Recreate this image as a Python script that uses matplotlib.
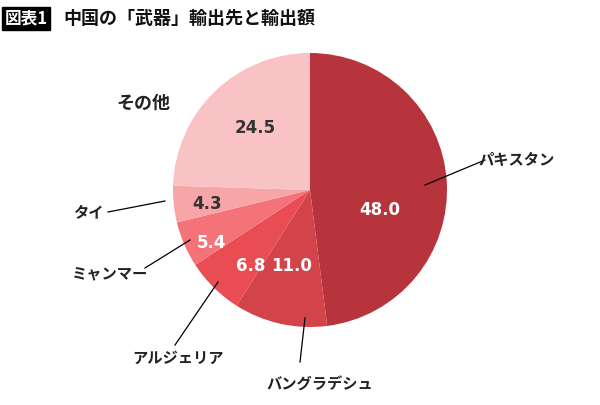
import matplotlib
matplotlib.use("Agg")
import matplotlib.pyplot as plt

countries = ["パキスタン", "バングラデシュ", "アルジェリア", "ミャンマー", "タイ", "その他"]
values = [48.0, 11.0, 6.8, 5.4, 4.3, 24.5]
colors = ["#b8343c", "#d3434a", "#e94c52", "#f47378", "#f8a5a8", "#f9c2c4"]

plt.rcParams['font.family'] = ['Noto Sans CJK JP', 'DejaVu Sans']
fig = plt.figure(figsize=(6, 4.05), dpi=100)
cx, cy, r = 310, 190, 137
ax = fig.add_axes([(cx - r) / 600, (405 - cy - r) / 405, 2 * r / 600, 2 * r / 405])
ax.pie(values, colors=colors, startangle=90, counterclock=False, radius=1,
       wedgeprops=dict(linewidth=0))
ax.set_xlim(-1, 1); ax.set_ylim(-1, 1)

def d(px, py):
    return ((px - cx) / r, (cy - py) / r)

val_pos = [(380, 210, "white"), (292, 266, "white"), (251, 266, "white"),
           (212, 243, "white"), (207, 204, "#333333"), (255, 128, "#333333")]
for v, (px, py, c) in zip(values, val_pos):
    ax.text(*d(px, py), f"{v:.1f}", color=c, fontsize=12, fontweight="bold",
            ha="center", va="center", family=["DejaVu Sans"], clip_on=False)

lab = [((517, 160), (425, 185), (485, 160)),
       ((320, 385), (305, 318), (300, 362)),
       ((178, 358), (218, 282), (175, 345)),
       ((110, 274), (190, 240), (145, 268)),
       ((88, 212), (165, 201), (108, 212)),
       ((143, 103), None, None)]
for name, (tp, a, b) in zip(countries, lab):
    ax.text(*d(*tp), name, fontsize=11 if name != "その他" else 13, fontweight="bold",
            ha="center", va="center", color="#222222", clip_on=False)
    if a:
        (x1, y1), (x2, y2) = d(*a), d(*b)
        ax.plot([x1, x2], [y1, y2], color="black", lw=0.9, clip_on=False)

fig.text(0.008, 0.955, "図表1", color="white", fontsize=12, fontweight="bold",
         va="center", ha="left",
         bbox=dict(boxstyle="square,pad=0.15", fc="black", ec="black"))
fig.text(0.105, 0.955, "中国の「武器」輸出先と輸出額", fontsize=13, fontweight="bold",
         va="center", ha="left", color="#111111")
fig.savefig("out.png", dpi=100)
